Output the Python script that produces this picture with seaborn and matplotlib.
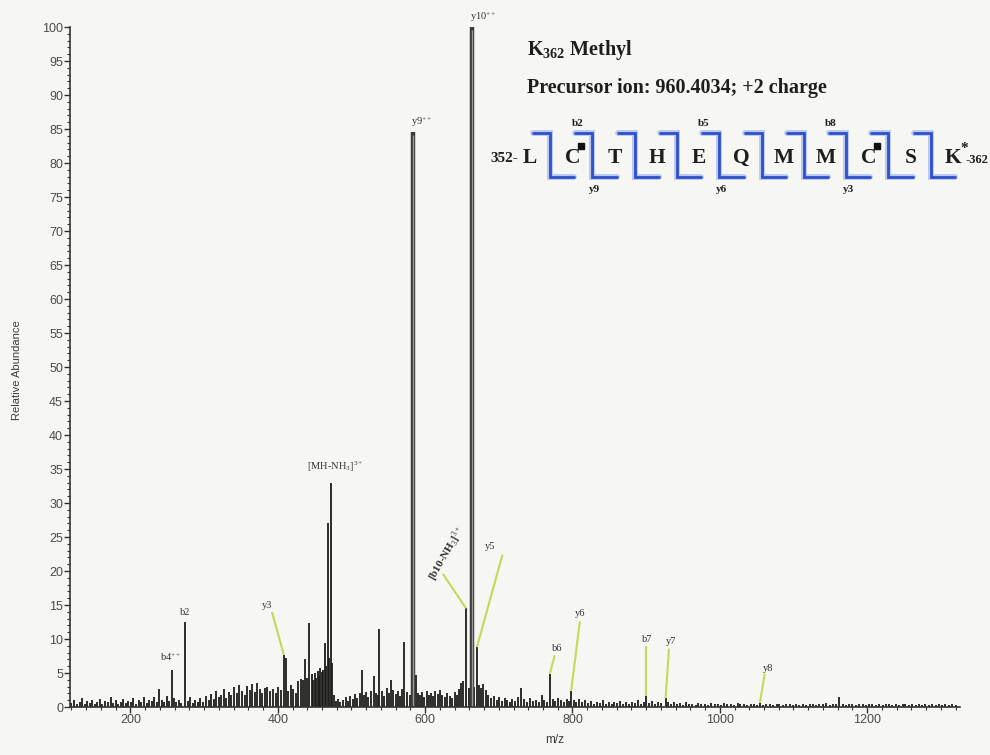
import matplotlib
matplotlib.use("Agg")
import matplotlib.pyplot as plt
from matplotlib.ticker import MultipleLocator
from matplotlib.patches import Rectangle
import pandas as pd
import seaborn as sns

# centroid peaks of the MS/MS spectrum (m/z, relative abundance)
mz = [120, 124, 127, 131, 134, 138, 141, 145, 148, 152, 155, 159, 162, 166, 169, 173,
      176, 180, 183, 187, 190, 194, 197, 201, 204, 208, 211, 215, 218, 222, 225, 229,
      232, 236, 239, 243, 246, 250, 253, 256.6, 259, 262, 266, 269, 274.1, 278, 281, 285,
      288, 292, 295, 299, 302, 306, 309, 313, 316, 320, 323, 327, 330, 334, 337, 341,
      344, 348, 351, 355, 358, 362, 365, 369, 372, 376, 379, 383, 386, 390, 393, 397,
      400, 404, 408.2, 411.5, 414, 418, 421, 425, 428, 431, 434, 437, 440, 443, 446, 448,
      450, 452, 454, 456, 458, 460, 462, 464, 466, 468, 470, 472, 474, 476, 479, 482,
      485, 489, 492, 495, 498, 502, 505, 508, 511, 514, 517, 520, 523, 527, 530, 533,
      536, 538, 541, 544, 548, 551, 554, 557, 560, 563, 566, 569, 572, 576, 579, 583.3,
      587, 590, 593, 596, 599, 602, 605, 608, 611, 614, 617, 620, 623, 627, 630, 634,
      637, 640, 643, 646, 649, 652, 655.5, 659, 663.3, 667, 670.3, 673, 676, 679, 682, 686,
      689, 693, 697, 700, 704, 708, 711, 715, 718, 722, 726, 730, 734, 738, 742, 746,
      750, 754, 758, 762, 765, 769.3, 773, 776, 780, 784, 788, 792, 795, 798.3, 802, 805,
      809, 813, 817, 821, 825, 829, 833, 837, 841, 845, 849, 853, 857, 861, 865, 869,
      873, 877, 881, 885, 889, 893, 897, 900.4, 904, 908, 912, 916, 920, 926.4, 930, 934,
      938, 942, 946, 950, 954, 958, 962, 967, 971, 975, 980, 984, 988, 993, 997, 1001,
      1006, 1010, 1015, 1019, 1024, 1028, 1033, 1037, 1042, 1046, 1050, 1054.4, 1059, 1063, 1068, 1072,
      1077, 1081, 1086, 1090, 1095, 1099, 1104, 1108, 1113, 1117, 1122, 1126, 1131, 1135, 1140, 1144,
      1149, 1153, 1158, 1162, 1167, 1171, 1176, 1180, 1185, 1189, 1194, 1198, 1203, 1207, 1212, 1216,
      1221, 1225, 1230, 1234, 1239, 1243, 1248, 1252, 1257, 1261, 1266, 1270, 1275, 1279, 1284, 1288,
      1293, 1297, 1302, 1306, 1311, 1315, 1320]
abundance = [0.6, 1.0, 0.4, 0.8, 1.3, 0.5, 0.9, 0.6, 1.1, 0.4, 0.8, 1.2, 0.5, 0.9, 0.7, 1.4,
             0.6, 1.0, 0.5, 0.8, 1.2, 0.6, 0.9, 0.7, 1.3, 0.5, 1.0, 0.8, 1.5, 0.6, 1.1, 0.9,
             1.4, 0.7, 2.7, 1.0, 0.8, 1.6, 0.9, 5.5, 1.3, 0.7, 1.0, 0.6, 12.5, 0.9, 1.4, 0.6,
             1.0, 0.7, 1.3, 0.8, 1.6, 1.1, 1.9, 1.2, 2.3, 1.5, 1.8, 2.6, 1.3, 2.2, 1.7, 2.9,
             2.0, 3.3, 2.4, 1.8, 3.1, 2.5, 3.4, 2.2, 3.5, 2.6, 2.0, 2.8, 3.0, 2.3, 2.7, 2.1,
             3.0, 2.5, 7.7, 7.2, 2.4, 3.2, 2.6, 2.1, 3.8, 4.1, 4.0, 7.0, 4.3, 12.3, 4.8, 3.9,
             5.0, 4.2, 5.3, 4.6, 5.8, 5.1, 5.5, 9.4, 6.0, 27.0, 7.2, 33.0, 6.5, 1.8, 0.9, 1.2,
             0.7, 1.0, 1.4, 0.9, 1.6, 1.2, 1.9, 1.3, 2.0, 5.4, 1.7, 2.2, 1.5, 2.4, 4.5, 2.0,
             1.8, 11.5, 2.3, 1.6, 2.8, 2.0, 3.9, 2.5, 1.9, 2.3, 1.6, 2.6, 9.5, 2.2, 1.8, 84.5,
             4.7, 2.0, 1.7, 2.2, 1.5, 2.4, 1.8, 2.1, 1.6, 2.3, 1.9, 2.5, 1.7, 1.4, 2.0, 1.6,
             1.3, 2.2, 1.8, 2.6, 3.6, 3.8, 14.5, 2.8, 100.0, 3.0, 8.8, 3.3, 2.8, 3.4, 2.5, 1.8,
             1.3, 1.6, 1.0, 1.4, 0.9, 1.3, 1.1, 0.8, 1.2, 0.9, 1.5, 2.8, 1.2, 0.8, 1.3, 0.9,
             1.1, 0.7, 1.8, 1.0, 0.8, 4.9, 1.2, 0.9, 1.3, 1.0, 0.7, 1.2, 0.9, 2.4, 1.1, 0.8,
             1.2, 0.7, 1.0, 0.6, 0.9, 0.5, 0.8, 0.6, 1.0, 0.5, 0.7, 0.4, 0.8, 0.6, 0.9, 0.5,
             0.7, 0.4, 0.8, 0.6, 1.0, 0.5, 0.7, 1.6, 0.6, 0.9, 0.5, 0.8, 0.6, 1.3, 0.7, 0.5,
             0.8, 0.4, 0.6, 0.3, 0.7, 0.4, 0.5, 0.3, 0.6, 0.4, 0.5, 0.3, 0.6, 0.4, 0.5, 0.3,
             0.6, 0.4, 0.5, 0.3, 0.6, 0.4, 0.5, 0.3, 0.5, 0.4, 0.3, 0.6, 0.3, 0.5, 0.4, 0.3,
             0.5, 0.4, 0.3, 0.5, 0.4, 0.3, 0.5, 0.3, 0.4, 0.3, 0.5, 0.4, 0.3, 0.5, 0.4, 0.6,
             0.3, 0.5, 0.4, 1.5, 0.4, 0.3, 0.5, 0.4, 0.3, 0.5, 0.4, 0.3, 0.5, 0.4, 0.3, 0.5,
             0.3, 0.4, 0.5, 0.3, 0.4, 0.3, 0.5, 0.4, 0.3, 0.4, 0.3, 0.5, 0.3, 0.4, 0.3, 0.4,
             0.3, 0.5, 0.3, 0.4, 0.3, 0.4, 0.3]

# peptide sequence and fragment labels of the header
residues = ["L", "C", "T", "H", "E", "Q", "M", "M", "C", "S", "K"]
b_labels = {1: "b2", 4: "b5", 7: "b8"}
y_labels = {1: "y9", 4: "y6", 7: "y3"}

spec = pd.DataFrame({"mz": mz, "abundance": abundance})

sns.set_theme(style="ticks")
plt.rcParams["font.family"] = ["Liberation Sans", "DejaVu Sans"]
plt.rcParams["mathtext.fontset"] = "custom"
plt.rcParams["mathtext.rm"] = "Liberation Serif"
plt.rcParams["mathtext.it"] = "Liberation Serif:italic"
plt.rcParams["mathtext.bf"] = "Liberation Serif:bold"

bg = "#f6f6f3"
fig = plt.figure(figsize=(9.9, 7.55), dpi=100, facecolor=bg)
ax = fig.add_axes([70 / 990, 48 / 755, 890 / 990, 680 / 755], facecolor=bg)

# stick spectrum
ax.vlines(spec.mz, 0, spec.abundance, color="#1c1c1c", lw=1.3)
big = spec[spec.abundance > 40]
ax.vlines(big.mz, 0, big.abundance, color="#3a3a3a", lw=3.2)
ax.vlines(big.mz, 0, big.abundance - 0.4, color="#9a9a9a", lw=1.0)

ax.set_xlim(118, 1326)
ax.set_ylim(0, 100)
sns.despine(ax=ax)
for s in ["left", "bottom"]:
    ax.spines[s].set_color("#333333")
    ax.spines[s].set_linewidth(1.2)
ax.yaxis.set_major_locator(MultipleLocator(5))
ax.yaxis.set_minor_locator(MultipleLocator(1))
ax.xaxis.set_major_locator(MultipleLocator(200))
ax.xaxis.set_minor_locator(MultipleLocator(20))
ax.tick_params(axis="both", which="major", length=4, width=1, color="#333333",
               labelsize=9, labelcolor="#4a4a4a", pad=1)
ax.tick_params(axis="both", which="minor", length=2.5, width=0.8, color="#333333")
ax.set_xlabel("")
ax.set_ylabel("")

fig.text(17 / 990, 1 - 370 / 755, "Relative Abundance", rotation=90,
         ha="center", va="center", fontsize=8, color="#3a3a3a")
fig.text(555 / 990, 1 - 740 / 755, "m/z", ha="center", va="center",
         fontsize=8.5, color="#3a3a3a")

# peak annotations
lab = dict(family="Liberation Serif", fontsize=7.5, color="#333333", clip_on=False)
lead = dict(color="#c9d65a", lw=1.5, clip_on=False, solid_capstyle="butt")
ax.text(661, 100.4, "y10$^{++}$", ha="left", va="bottom", **lab)
ax.text(581, 85.0, "y9$^{++}$", ha="left", va="bottom", **lab)
ax.text(478, 34.2, "[MH-NH$_3$]$^{3+}$", ha="center", va="bottom", **lab)
ax.text(274, 13.2, "b2", ha="center", va="bottom", **lab)
ax.text(255, 6.4, "b4$^{++}$", ha="center", va="bottom", **lab)

ax.text(386, 14.2, "y3", ha="center", va="bottom", **lab)
ax.plot([392, 408.2], [14.0, 7.7], **lead)
ax.text(630, 22.5, "[b10-NH$_3$]$^{3+}$", ha="center", va="center", rotation=60,
        fontweight="bold", family="Liberation Serif", fontsize=8, color="#333333")
ax.plot([624, 655.5], [19.6, 14.5], **lead)
ax.text(688, 23.6, "y5", ha="center", va="center", **lab)
ax.plot([705, 670.3], [22.4, 8.8], **lead)
ax.text(779, 8.6, "b6", ha="center", va="center", **lab)
ax.plot([776, 769.3], [7.6, 4.9], **lead)
ax.text(810, 13.7, "y6", ha="center", va="center", **lab)
ax.plot([810, 798.3], [12.6, 2.4], **lead)
ax.text(902, 9.9, "b7", ha="center", va="center", **lab)
ax.plot([900.4, 900.4], [8.9, 1.6], **lead)
ax.text(934, 9.7, "y7", ha="center", va="center", **lab)
ax.plot([931, 926.4], [8.6, 1.3], **lead)
ax.text(1066, 5.7, "y8", ha="center", va="center", **lab)
ax.plot([1061, 1054.4], [4.9, 0.6], **lead)

# header block drawn in figure pixels
ov = fig.add_axes([0, 0, 1, 1])
ov.set_xlim(0, 990)
ov.set_ylim(755, 0)
ov.axis("off")
ov.patch.set_visible(False)
serif = dict(family="Liberation Serif", color="#1e1e1e", fontweight="bold")
ov.text(527, 55, r"K$_{\mathbf{362}}$ Methyl", ha="left", va="baseline", fontsize=14.5, **serif)
ov.text(527, 93, "Precursor ion: 960.4034; +2 charge", ha="left", va="baseline",
        fontsize=14.5, **serif)

step = 42.3
x0 = 530
ov.text(x0 - 12, 162, "352-", ha="right", va="baseline", fontsize=11, **serif)
blue = "#3050c8"
for i, r in enumerate(residues):
    xc = x0 + i * step
    ov.text(xc, 163, r, ha="center", va="baseline", fontsize=15.5, **serif)
    if r == "C":
        ov.add_patch(Rectangle((xc + 6, 143), 6, 6, color="#111111", zorder=5))
    if i < len(residues) - 1:
        xv = xc + 20
        xs = [xc + 3, xv, xv, x0 + (i + 1) * step + 2]
        ys = [133, 133, 177, 177]
        ov.plot(xs, ys, color="#b9c8f2", lw=4.2, solid_joinstyle="miter")
        ov.plot(xs, ys, color=blue, lw=2.0, solid_joinstyle="miter")
    if i in b_labels:
        ov.text(xc + 5, 126, b_labels[i], ha="center", va="baseline", fontsize=8, **serif)
    if i in y_labels:
        ov.text(xc + 22, 192, y_labels[i], ha="center", va="baseline", fontsize=8, **serif)
xk = x0 + (len(residues) - 1) * step
ov.text(xk + 7, 152, "*", ha="left", va="baseline", fontsize=11, **serif)
ov.text(xk + 13, 163, "-362", ha="left", va="baseline", fontsize=9, **serif)

fig.savefig("out.png", dpi=100, facecolor=bg)
